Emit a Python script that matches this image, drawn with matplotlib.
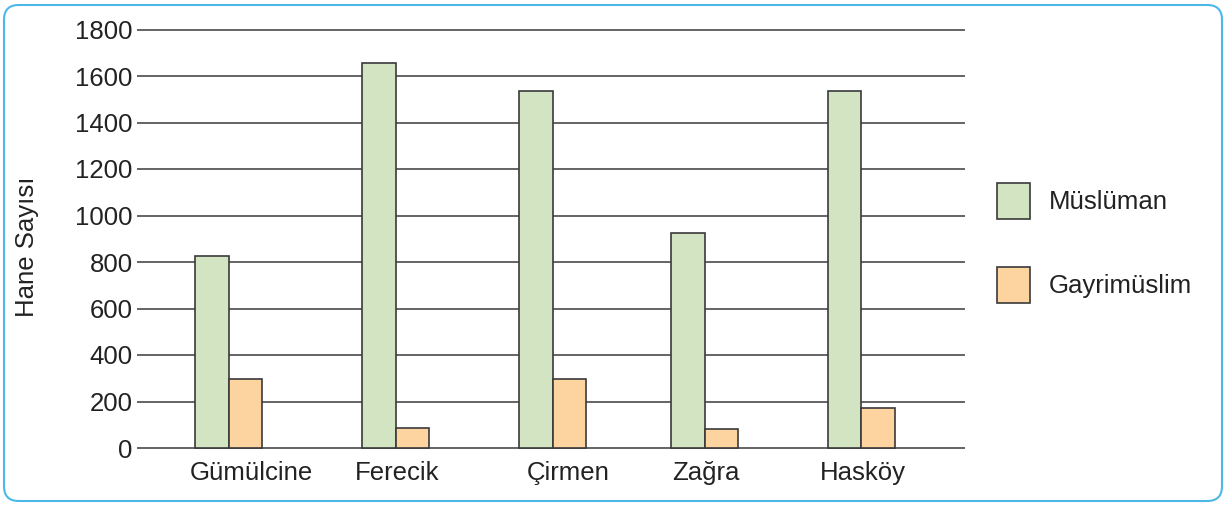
import matplotlib
matplotlib.use("Agg")
import matplotlib.pyplot as plt
from matplotlib.patches import FancyBboxPatch
import numpy as np

categories = ["Gümülcine", "Ferecik", "Çirmen", "Zağra", "Hasköy"]
muslim = [825, 1655, 1535, 925, 1535]
nonmuslim = [295, 87, 297, 82, 172]
yticks = [0, 200, 400, 600, 800, 1000, 1200, 1400, 1600, 1800]
series_names = ["Müslüman", "Gayrimüslim"]

plt.rcParams['font.family'] = ['Liberation Sans', 'DejaVu Sans']

W, H = 1227, 505
fig = plt.figure(figsize=(W / 100, H / 100), dpi=100)

# axes placement (pixels)
left_px, right_px = 137, 965
ylo, yhi = -10, 1810
ppu = 46.5 / 200
bot_px = 448 + (0 - ylo) * ppu
top_px = 448 - yhi * ppu
ax = fig.add_axes([left_px / W, (H - bot_px) / H, (right_px - left_px) / W, (bot_px - top_px) / H])

# layout: group centres and label centres (as in the reference)
group_pos = np.array([0.0, 1.055, 2.05, 3.012, 4.0])
label_pos = np.array([0.139, 1.063, 2.146, 3.019, 4.013])
bw = 0.212
green = "#d3e4c3"
orange = "#fdd4a0"
edge = "#3a3a3a"
ax.bar(group_pos - bw / 2, muslim, bw, color=green, edgecolor=edge, linewidth=1.2, label=series_names[0], zorder=3)
ax.bar(group_pos + bw / 2, nonmuslim, bw, color=orange, edgecolor=edge, linewidth=1.2, label=series_names[1], zorder=3)

fs = 18.5
ax.set_ylim(ylo, yhi)
ax.set_xlim(-0.582, 4.658)
ax.set_yticks(yticks)
ax.set_yticklabels([str(v) for v in yticks], fontsize=fs, color="#222222")
ax.set_xticks(label_pos)
ax.set_xticklabels(categories, fontsize=fs, color="#222222")
ax.tick_params(axis='both', length=0)
ax.tick_params(axis='y', pad=3)
ax.tick_params(axis='x', pad=8)
for s in ax.spines.values():
    s.set_visible(False)
ax.yaxis.grid(True, color="#3a3a3a", linewidth=1.1, zorder=0)
ax.set_axisbelow(True)

fig.text(27 / W, (H - 247) / H, "Hane Sayısı", rotation=90, fontsize=fs,
         color="#222222", ha="center", va="center")

leg = ax.legend(loc="upper left", bbox_to_anchor=(997 / W, (H - 183) / H),
                bbox_transform=fig.transFigure, frameon=False, fontsize=fs,
                handlelength=1.3, handleheight=1.8, labelspacing=1.85,
                handletextpad=0.7, borderpad=0, borderaxespad=0)
for t in leg.get_texts():
    t.set_color("#222222")

border = FancyBboxPatch((4 / W, 4 / H), (W - 9) / W, (H - 9) / H,
                        boxstyle="round,pad=0,rounding_size=0.012",
                        transform=fig.transFigure, fill=False,
                        edgecolor="#4bb8ea", linewidth=1.5, mutation_aspect=W / H)
fig.patches.append(border)

fig.savefig("out.png", dpi=100)
